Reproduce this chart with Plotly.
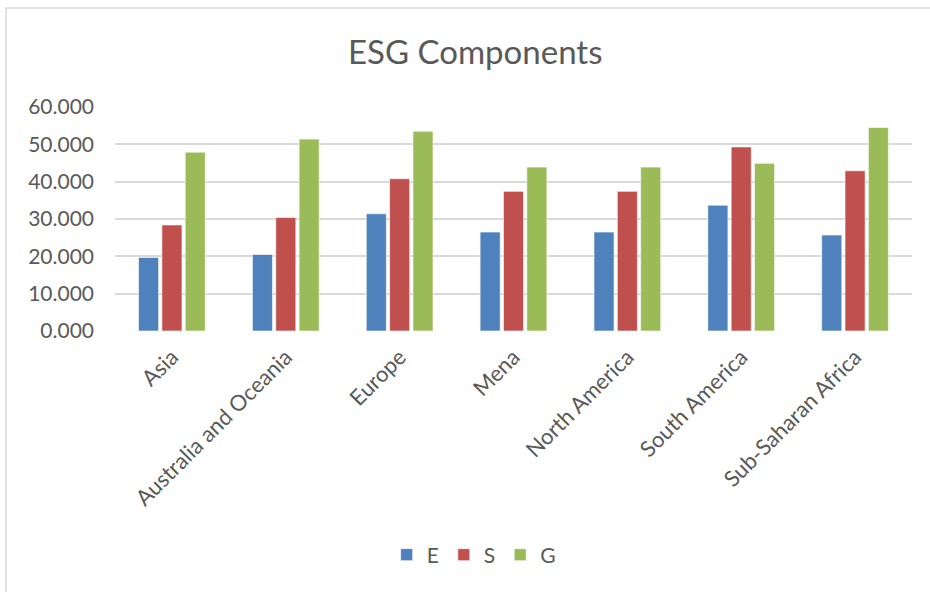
import plotly.graph_objects as go

categories = ["Asia", "Australia and Oceania", "Europe", "Mena", "North America",
              "South America", "Sub-Saharan Africa"]
E_values = [19.7, 20.5, 31.4, 26.5, 26.5, 33.7, 25.7]
S_values = [28.4, 30.4, 40.8, 37.4, 37.4, 49.3, 42.9]
G_values = [47.9, 51.4, 53.5, 43.9, 43.9, 44.9, 54.5]
tick_vals = [0, 10, 20, 30, 40, 50, 60]

FONT = "Lato"
GREY = "#595959"

fig = go.Figure()
for name, vals, col in [("E", E_values, "#4F81BD"), ("S", S_values, "#C0504D"),
                        ("G", G_values, "#9BBB59")]:
    fig.add_trace(go.Bar(x=categories, y=vals, name=name,
                         marker=dict(color=col, line=dict(color="rgba(255,255,255,0.6)", width=1))))

fig.update_layout(
    width=930, height=592,
    margin=dict(l=115, r=18, t=107, b=261),
    paper_bgcolor="white", plot_bgcolor="white",
    font=dict(family=FONT, color=GREY, size=20),
    title=dict(text="ESG Components", x=0.511, xref="container", xanchor="center",
               y=1 - 52 / 592, yref="container", yanchor="middle",
               font=dict(family=FONT, size=33, color=GREY)),
    barmode="group", bargap=0.385, bargroupgap=0.14,
    showlegend=True,
    legend=dict(orientation="h", x=0.45, xanchor="center", y=-1.0, yanchor="middle",
                font=dict(size=21, color=GREY), traceorder="normal", itemwidth=30,
                tracegroupgap=0),
    xaxis=dict(tickangle=-45, showgrid=False, showline=False, ticks="",
               ticklabelstandoff=8, tickfont=dict(size=22, color=GREY)),
    yaxis=dict(range=[0, 60], tickvals=tick_vals, tickformat=".3f", showgrid=True,
               gridcolor="#d9d9d9", gridwidth=2, zeroline=False, showline=False,
               ticks="", ticklen=0, ticklabelstandoff=20, tickfont=dict(size=21, color=GREY)),
    shapes=[dict(type="rect", xref="paper", yref="paper",
                 x0=(6 - 115) / 797, x1=1.05, y0=-1.2, y1=(331 - 8) / 224,
                 line=dict(color="#d9d9d9", width=1.5), fillcolor="rgba(0,0,0,0)",
                 layer="below")],
)

fig.write_html("out.html")
